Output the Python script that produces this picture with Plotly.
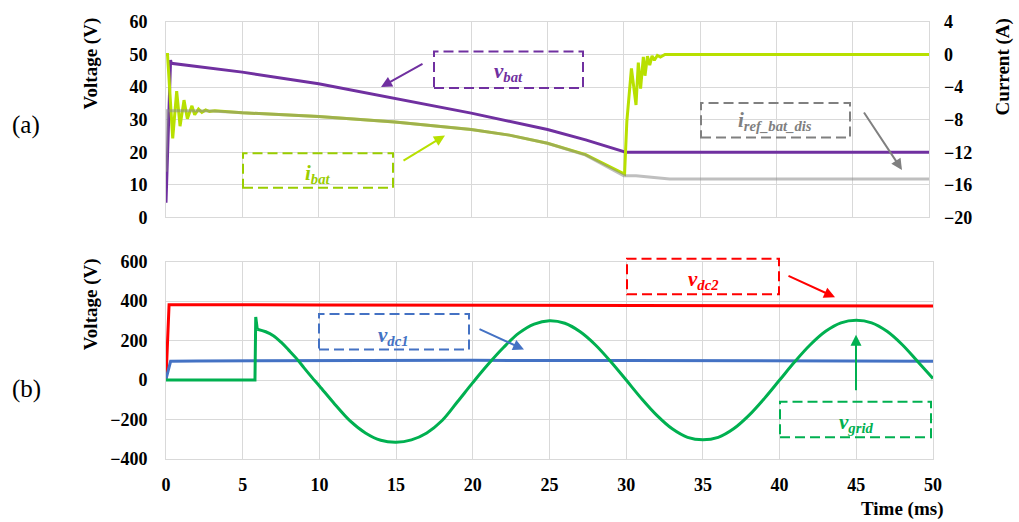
import plotly.graph_objects as go

# ---------------- data ----------------
# (a) battery side
t_vbat = [0, 0.3, 0.35, 5, 10, 15, 20, 25, 27.5, 30, 30.1, 50]
v_bat = [4.5, 48.3, 47.3, 44.6, 41.0, 36.6, 32.0, 27.0, 23.8, 20.2, 20.0, 20.0]          # V

t_ibat = [0, 0.1, 0.44, 0.7, 0.92, 1.18, 1.4, 1.7, 1.88, 2.13, 2.35, 2.6, 2.85, 3.2, 5, 10,
          15, 20, 22.5, 25, 27.5, 30.05, 30.2, 30.5, 30.8, 30.95, 31.1, 31.28, 31.39, 31.55,
          31.7, 31.85, 32.0, 32.2, 32.4, 32.7, 50]
i_bat = [0, 0, -10.3, -4.5, -8.8, -5.6, -7.9, -6.3, -7.4, -6.7, -7.1, -6.8, -7.0, -6.9, -7.15,
         -7.6, -8.3, -9.2, -9.9, -10.9, -12.3, -14.7, -8.2, -1.7, -6.2, -1.0, -4.2, -0.3, -2.6,
         -0.2, -1.3, -0.16, -0.7, -0.1, -0.3, 0, 0]                                       # A

t_iref = [0, 0.08, 1, 3, 5, 10, 15, 20, 22.5, 25, 27.5, 30, 30.8, 33, 50]
i_ref = [-14.4, -6.9, -6.9, -6.95, -7.15, -7.6, -8.3, -9.2, -9.9, -10.9, -12.35, -14.9, -14.9,
         -15.3, -15.3]                                                                    # A

# (b) dc links and grid
t_vdc2 = [0, 0.2, 10, 20, 30, 40, 50]
v_dc2 = [5, 382, 381, 380, 378, 377, 375]
t_vdc1 = [0, 0.3, 2, 10, 20, 30, 40, 50]
v_dc1 = [5, 95, 97, 99, 100, 99, 97, 96]
t_grid_a = [0, 5.8, 5.85, 5.95]
v_grid_a = [0, 0, 320, 258]
t_grid_b = [5.95, 6.5, 7, 7.5, 8, 8.5, 9, 9.5] + list(range(10, 51))
v_grid_b = [258, 245, 225, 192, 152, 110, 62, 15,
            -30, -122, -207, -268, -305, -315, -303, -268, -205, -110, -13,
            80, 165, 238, 284, 301, 288, 245, 178, 93, 0,
            -94, -179, -247, -290, -303, -290, -247, -179, -94, 0,
            94, 179, 247, 290, 303, 290, 247, 179, 94, 8]

x_ticks = list(range(0, 51, 5))
y1_ticks = list(range(0, 61, 10))
y2_ticks = list(range(-20, 5, 4))
y3_ticks = list(range(-400, 601, 200))

# ---------------- colours ----------------
PURPLE = "#7030A0"
LIME = "#B8E000"
LIME_TXT = "#9ACD00"
GRAY = "#8C8C8C"
GRAY_TXT = "#808080"
RED = "#FF0000"
BLUE = "#4472C4"
GREEN = "#00B050"
GRID = "#D9D9D9"
FONT = "Liberation Serif"

# ---------------- layout geometry (pixels) ----------------
W, H = 1019, 522
L, R, T, B = 166, 86, 16, 63
PW, PH = W - L - R, H - T - B


def P(px, py):
    return (px - L) / PW, (H - B - py) / PH


fig = go.Figure()

# (a)
fig.add_trace(go.Scatter(x=t_vbat, y=v_bat, mode="lines", line=dict(color=PURPLE, width=3),
                         xaxis="x", yaxis="y", hoverinfo="skip"))
fig.add_trace(go.Scatter(x=t_ibat, y=i_bat, mode="lines", line=dict(color=LIME, width=3),
                         xaxis="x", yaxis="y2", hoverinfo="skip"))
fig.add_trace(go.Scatter(x=t_iref, y=i_ref, mode="lines", line=dict(color=GRAY, width=3),
                         opacity=0.55, xaxis="x", yaxis="y2", hoverinfo="skip"))
# (b)
fig.add_trace(go.Scatter(x=t_vdc2, y=v_dc2, mode="lines", line=dict(color=RED, width=3),
                         xaxis="x2", yaxis="y3", hoverinfo="skip"))
fig.add_trace(go.Scatter(x=t_vdc1, y=v_dc1, mode="lines", line=dict(color=BLUE, width=3),
                         xaxis="x2", yaxis="y3", hoverinfo="skip"))
fig.add_trace(go.Scatter(x=t_grid_a, y=v_grid_a, mode="lines", line=dict(color=GREEN, width=3),
                         xaxis="x2", yaxis="y3", hoverinfo="skip"))
fig.add_trace(go.Scatter(x=t_grid_b, y=v_grid_b, mode="lines",
                         line=dict(color=GREEN, width=3, shape="spline", smoothing=1),
                         xaxis="x2", yaxis="y3", hoverinfo="skip"))

tickfont = dict(family=FONT, size=18, color="black", weight="bold")
common = dict(showgrid=True, gridcolor=GRID, gridwidth=1, zeroline=False, showline=True,
              linecolor=GRID, linewidth=1, mirror=True, ticks="", tickfont=tickfont)

top_lo = (H - B - 214) / PH
bot_hi = (H - B - 259) / PH

fig.update_layout(
    width=W, height=H, margin=dict(l=L, r=R, t=T, b=B),
    paper_bgcolor="white", plot_bgcolor="white", showlegend=False,
    xaxis=dict(domain=[0, 763 / PW], range=[0, 50], tickvals=x_ticks, showticklabels=False,
               anchor="y", **common),
    yaxis=dict(domain=[top_lo, 1], range=[0, 60], tickvals=y1_ticks, anchor="x",
               ticklabelstandoff=14, **common),
    yaxis2=dict(overlaying="y", side="right", range=[-20, 4], tickvals=y2_ticks, anchor="x",
                showgrid=False, zeroline=False, showline=False, ticks="", tickfont=tickfont,
                ticklabelstandoff=14),
    xaxis2=dict(domain=[0, 1], range=[0, 50], tickvals=x_ticks, anchor="y3",
                ticklabelstandoff=9, **common),
    yaxis3=dict(domain=[0, bot_hi], range=[-400, 600], tickvals=y3_ticks, anchor="x2",
                ticklabelstandoff=14, **common),
)

# ---------------- labels, boxes and arrows ----------------
shapes = []
annotations = []


def box(x0, y0, x1, y1, color):
    a = P(x0, y0)
    b = P(x1, y1)
    shapes.append(dict(type="rect", xref="paper", yref="paper", x0=a[0], x1=b[0], y0=b[1], y1=a[1],
                       line=dict(color=color, width=2, dash="10px,5px"), fillcolor="rgba(0,0,0,0)"))


def label(px, py, text, color, size=21):
    x, y = P(px, py)
    annotations.append(dict(xref="paper", yref="paper", x=x, y=y, text=text, showarrow=False,
                            font=dict(family=FONT, size=size, color=color, weight="bold"),
                            xanchor="center", yanchor="middle"))


def arrow(tx, ty, hx, hy, color):
    x, y = P(hx, hy)
    annotations.append(dict(xref="paper", yref="paper", x=x, y=y, ax=tx - hx, ay=ty - hy,
                            text="", showarrow=True, arrowhead=2, arrowsize=1.1, arrowwidth=2,
                            arrowcolor=color, standoff=0))


box(434, 46, 583, 83, PURPLE)
label(508, 67, "<i>v<sub>bat</sub></i>", PURPLE)
arrow(424, 58, 381, 82, PURPLE)

box(243, 149, 393, 184, LIME_TXT)
label(318, 170, "<i>i<sub>bat</sub></i>", LIME_TXT)
arrow(402, 157, 445, 131, LIME)

box(701, 98, 850, 133, GRAY_TXT)
label(775, 116, "<i>i<sub>ref_bat_dis</sub></i>", GRAY_TXT)
arrow(863, 107, 902, 166, GRAY_TXT)

box(627, 256, 779, 292, RED)
label(703, 278, "<i>v<sub>dc2</sub></i>", RED)
arrow(787, 273, 835, 295, RED)

box(319, 312, 469, 348, BLUE)
label(393, 334, "<i>v<sub>dc1</sub></i>", BLUE)
arrow(478, 327, 524, 348, BLUE)

box(780, 401, 931, 437, GREEN)
label(856, 422, "<i>v<sub>grid</sub></i>", GREEN)
arrow(856, 390, 856, 333, GREEN)


# axis titles and panel tags
def text(px, py, s, size=19, angle=0, bold=True):
    x, y = P(px, py)
    annotations.append(dict(xref="paper", yref="paper", x=x, y=y, text=s, showarrow=False,
                            textangle=angle,
                            font=dict(family=FONT, size=size, color="black",
                                      weight="bold" if bold else "normal"),
                            xanchor="center", yanchor="middle"))


text(91, 58, "Voltage (V)", angle=-90)
text(91, 302, "Voltage (V)", angle=-90)
text(1003, 62, "Current (A)", angle=-90)
text(902, 510, "Time (ms)")
text(26, 120, "(a)", size=25, bold=False)
text(26, 388, "(b)", size=25, bold=False)

fig.update_layout(shapes=shapes, annotations=annotations)
fig.write_html("out.html", config={"displayModeBar": False},
               post_script="document.body.style.margin='0';document.body.style.padding='0';"
                           "document.documentElement.style.margin='0';")
